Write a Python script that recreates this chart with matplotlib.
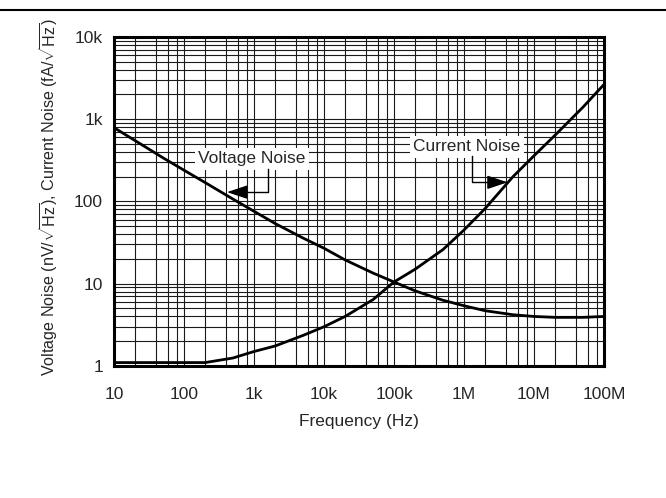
import matplotlib
matplotlib.use("Agg")
import matplotlib.pyplot as plt
from matplotlib.ticker import FixedLocator, FixedFormatter, NullFormatter, LogLocator

plt.rcParams['font.family'] = ['Liberation Sans', 'DejaVu Sans']
plt.rcParams['mathtext.fontset'] = 'custom'
plt.rcParams['mathtext.rm'] = 'Liberation Sans'
plt.rcParams['mathtext.it'] = 'Liberation Sans:italic'

# ---- data ----
volt_freq = [10, 20, 50, 100, 200, 500, 1e3, 2e3, 5e3, 1e4, 2e4, 5e4, 1e5, 2e5, 5e5,
             1e6, 2e6, 5e6, 1e7, 2e7, 5e7, 1e8]
volt_noise = [790, 550, 340, 240, 170, 107, 76, 54, 36, 27, 19.5, 13.5, 10.5, 8.2, 6.3,
              5.4, 4.7, 4.2, 4.0, 3.9, 3.9, 4.0]

curr_freq = [10, 100, 200, 500, 1e3, 2e3, 5e3, 1e4, 2e4, 5e4, 1e5, 2e5, 5e5,
             1e6, 2e6, 5e6, 1e7, 2e7, 5e7, 1e8]
curr_noise = [1.1, 1.1, 1.1, 1.25, 1.5, 1.75, 2.35, 3.0, 4.0, 6.4, 10.5, 15, 26,
              45, 82, 200, 360, 640, 1400, 2650]

x_ticks = [10, 100, 1e3, 1e4, 1e5, 1e6, 1e7, 1e8]
x_tick_labels = ["10", "100", "1k", "10k", "100k", "1M", "10M", "100M"]
y_ticks = [1, 10, 100, 1e3, 1e4]
y_tick_labels = ["1", "10", "100", "1k", "10k"]

TXT = '#262626'

fig = plt.figure(figsize=(6.66, 4.98), dpi=100)
ax = fig.add_axes([0.1712, 0.2651, 0.7357, 0.6606])

ax.plot(volt_freq, volt_noise, color='black', lw=2.0, solid_capstyle='butt', zorder=3)
ax.plot(curr_freq, curr_noise, color='black', lw=2.0, solid_capstyle='butt', zorder=3)

ax.set_xscale('log')
ax.set_yscale('log')
ax.set_xlim(10, 1e8)
ax.set_ylim(1, 1e4)

ax.xaxis.set_major_locator(FixedLocator(x_ticks))
ax.xaxis.set_major_formatter(FixedFormatter(x_tick_labels))
ax.yaxis.set_major_locator(FixedLocator(y_ticks))
ax.yaxis.set_major_formatter(FixedFormatter(y_tick_labels))
ax.xaxis.set_minor_locator(LogLocator(base=10, subs=(2, 4, 6, 8), numticks=20))
ax.yaxis.set_minor_locator(LogLocator(base=10, subs=range(2, 10), numticks=20))
ax.xaxis.set_minor_formatter(NullFormatter())
ax.yaxis.set_minor_formatter(NullFormatter())

ax.grid(which='both', color='#1a1a1a', lw=0.8)
ax.tick_params(which='both', length=0, labelsize=12.5, colors=TXT)
ax.tick_params(axis='x', pad=15)
ax.tick_params(axis='y', pad=8)
for s in ax.spines.values():
    s.set_linewidth(2.2)
    s.set_color('black')

ax.set_xlabel("Frequency (Hz)", fontsize=12.5, color=TXT, labelpad=9)
ax.set_ylabel(r"Voltage Noise (nV/$\sqrt{\mathrm{Hz}}$), Current Noise (fA/$\sqrt{\mathrm{Hz}}$)",
              fontsize=11.6, color=TXT)
ax.yaxis.set_label_coords(-0.11, 0.514)

# annotations
bbox = dict(boxstyle='square,pad=0.2', fc='white', ec='none')
ax.text(935, 330, "Voltage Noise", fontsize=12.5, color=TXT, ha='center', va='center',
        bbox=bbox, zorder=4)
ax.plot([1585, 1585, 560], [250, 130, 130], color='black', lw=1.0, zorder=4)
ax.annotate("", xy=(411, 130), xytext=(600, 130),
            arrowprops=dict(arrowstyle='-|>,head_length=0.9,head_width=0.3', color='black',
                            lw=1.0, shrinkA=0, shrinkB=0, mutation_scale=14), zorder=4)

ax.text(1.1e6, 463, "Current Noise", fontsize=12.5, color=TXT, ha='center', va='center',
        bbox=bbox, zorder=4)
ax.plot([1.29e6, 1.29e6, 2.6e6], [360, 171, 171], color='black', lw=1.0, zorder=4)
ax.annotate("", xy=(4.2e6, 171), xytext=(2.4e6, 171),
            arrowprops=dict(arrowstyle='-|>,head_length=0.9,head_width=0.3', color='black',
                            lw=1.0, shrinkA=0, shrinkB=0, mutation_scale=14), zorder=4)

# top rule line of the page
fig.add_artist(plt.Line2D([0, 1], [1 - 10 / 498, 1 - 10 / 498], color='black', lw=1.5,
                          transform=fig.transFigure))

fig.savefig("out.png", dpi=100)
